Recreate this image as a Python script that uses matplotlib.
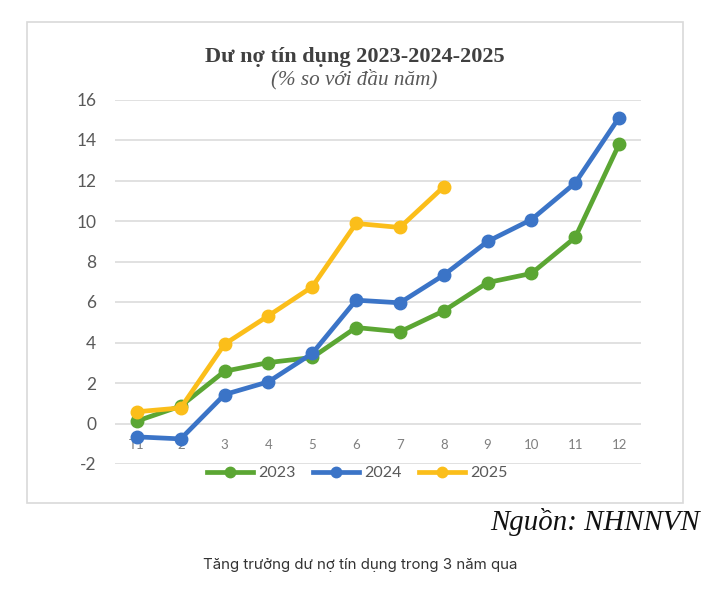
import matplotlib.pyplot as plt
from matplotlib.patches import Rectangle
from matplotlib.lines import Line2D

plt.rcParams["axes.unicode_minus"] = False

months = list(range(1, 13))
month_labels = ["T1", "2", "3", "4", "5", "6", "7", "8", "9", "10", "11", "12"]
y2023 = [0.12, 0.86, 2.58, 3.01, 3.26, 4.74, 4.53, 5.56, 6.96, 7.41, 9.19, 13.79]
y2024 = [-0.66, -0.76, 1.43, 2.06, 3.46, 6.09, 5.96, 7.33, 8.99, 10.07, 11.88, 15.11]
y2025 = [0.58, 0.77, 3.92, 5.32, 6.75, 9.88, 9.68, 11.69]
series = [("2023", y2023, "#5BA633"), ("2024", y2024, "#3B74C7"), ("2025", y2025, "#FBBE1A")]

W, H = 711, 590
fig = plt.figure(figsize=(W / 100, H / 100), dpi=100)

# chart frame
fig.patches.append(Rectangle((27 / W, 1 - 503 / H), (683 - 27) / W, (503 - 22) / H,
                             transform=fig.transFigure, fill=False, edgecolor="#d9d9d9", linewidth=1.2))

ax = fig.add_axes([115 / W, 1 - 464 / H, (641 - 115) / W, (464 - 99.5) / H])
for name, vals, col in series:
    ax.plot(months[:len(vals)], vals, color=col, lw=3.4, marker="o", ms=9, label=name,
            solid_capstyle="round", clip_on=False)

ax.set_xlim(0.5, 12.5)
ax.set_ylim(-2, 16)
ax.set_yticks(range(-2, 17, 2))
ax.set_xticks(months)
ax.set_xticklabels(month_labels)
ax.set_axisbelow(True)
ax.grid(axis="y", color="#d9d9d9", lw=1.1)
for s in ax.spines.values():
    s.set_visible(False)
ax.spines["bottom"].set_position(("data", 0))
ax.tick_params(axis="y", length=0, pad=13.5, labelsize=12.5, labelcolor="#595959")
ax.tick_params(axis="x", length=0, pad=11, labelsize=9.5, labelcolor="#7f7f7f")
for lab in ax.get_xticklabels() + ax.get_yticklabels():
    lab.set_fontfamily("Lato")

handles = [Line2D([], [], color=c, lw=3.4, marker="o", ms=7.5) for _, _, c in series]
fig.legend(handles, [n for n, _, _ in series], loc="center", bbox_to_anchor=(357 / W, 1 - 473 / H),
           ncol=3, frameon=False, handlelength=2.9, handletextpad=0.3, columnspacing=1.1,
           prop={"family": "Lato", "size": 11.5}, labelcolor="#595959")

fig.text(355 / W, 1 - 62 / H, "Dư nợ tín dụng 2023-2024-2025", ha="center", va="baseline",
         family="Liberation Serif", weight="bold", size=16, color="#404040")
fig.text(354 / W, 1 - 84 / H, "(% so với đầu năm)", ha="center", va="baseline",
         family="Liberation Serif", style="italic", size=15.2, color="#595959")
fig.text(700 / W, 1 - 530 / H, "Nguồn: NHNNVN", ha="right", va="baseline",
         family="Liberation Serif", style="italic", size=20.8, color="#111111")
fig.text(360.5 / W, 1 - 569 / H, "Tăng trưởng dư nợ tín dụng trong 3 năm qua", ha="center", va="baseline",
         family="Inter", size=10.8, color="#333333")

fig.savefig("out.png", dpi=100)
